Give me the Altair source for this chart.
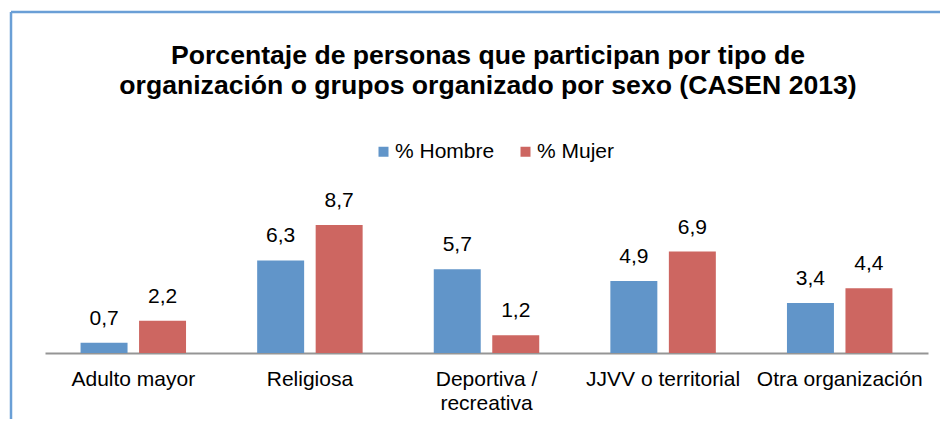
import altair as alt
import pandas as pd

categories = ["Adulto mayor", "Religiosa", "Deportiva / recreativa", "JJVV o territorial", "Otra organización"]
hombre = [0.7, 6.3, 5.7, 4.9, 3.4]
mujer = [2.2, 8.7, 1.2, 6.9, 4.4]
series = ["% Hombre", "% Mujer"]
colors = ["#6195c9", "#cd6661"]
title_lines = ["Porcentaje de personas que participan por tipo de",
               "organización o grupos organizado por sexo (CASEN 2013)"]

rows = []
for c, h, m in zip(categories, hombre, mujer):
    rows.append({"cat": c, "serie": series[0], "valor": h, "txt": f"{h:.1f}".replace(".", ",")})
    rows.append({"cat": c, "serie": series[1], "valor": m, "txt": f"{m:.1f}".replace(".", ",")})
df = pd.DataFrame(rows)

W, H = 883, 147
FONT = "Liberation Sans"

x = alt.X("cat:N", sort=categories, title=None,
          scale=alt.Scale(paddingInner=0, paddingOuter=0),
          axis=alt.Axis(labelAngle=0, labelFontSize=21, labelFont=FONT, labelColor="#000000",
                        labelPadding=15, labelLineHeight=24, ticks=False, domainColor="#959595",
                        domainWidth=2, grid=False,
                        labelExpr="datum.label == 'Deportiva / recreativa' ? ['Deportiva /', 'recreativa'] : datum.label"))
xo = alt.XOffset("serie:N", sort=series,
                 scale=alt.Scale(paddingInner=0.197, paddingOuter=0.608))
y = alt.Y("valor:Q", scale=alt.Scale(domain=[0, 10], nice=False), axis=None)

base = alt.Chart(df)

bars = base.mark_bar().encode(
    x=x, xOffset=xo, y=y,
    color=alt.Color("serie:N", sort=series, scale=alt.Scale(domain=series, range=colors),
                    legend=alt.Legend(title=None, orient="none", legendX=328, legendY=-65,
                                      direction="horizontal", symbolType="square", symbolSize=100,
                                      symbolStrokeWidth=0, labelFontSize=21, labelFont=FONT,
                                      labelColor="#000000", columnPadding=20, labelOffset=1)),
)

labels = base.mark_text(fontSize=21, font=FONT, color="#000000", baseline="alphabetic", dy=-18).encode(
    x=x, xOffset=xo, y=y, text="txt:N"
)

title = alt.Chart(pd.DataFrame({"t": ["\n".join(title_lines)]})).mark_text(
    fontSize=26.6, font=FONT, fontWeight="bold", color="#000000", align="center",
    baseline="alphabetic", lineBreak="\n", lineHeight=30,
).encode(x=alt.value(W / 2 + 1.5), y=alt.value(-142), text="t:N")

frame_top = alt.Chart(pd.DataFrame({"a": [0]})).mark_rule(color="#6a9fd6", strokeWidth=2.5).encode(
    x=alt.value(-34), x2=alt.value(W + 12), y=alt.value(-194)
)
frame_left = alt.Chart(pd.DataFrame({"a": [0]})).mark_rule(color="#6a9fd6", strokeWidth=2.5).encode(
    x=alt.value(-34), y=alt.value(-194), y2=alt.value(H + 70)
)

chart = alt.layer(frame_top, frame_left, title, bars, labels).properties(
    width=W, height=H,
    autosize=alt.AutoSizeParams(type="none"),
    padding={"left": 37, "top": 198, "right": 12, "bottom": 66},
).configure_view(stroke=None)

chart.save("out.html", embed_options={"renderer": "svg", "actions": False})
